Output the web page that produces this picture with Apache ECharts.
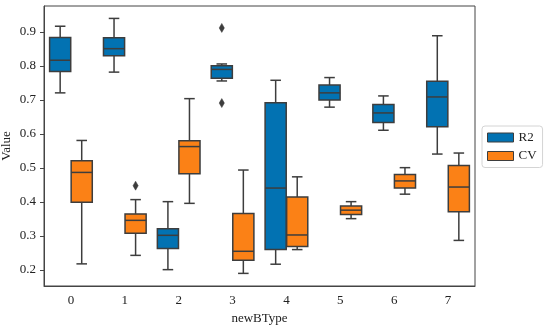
<!DOCTYPE html>
<html>
<head>
<meta charset="utf-8">
<script src="https://cdn.jsdelivr.net/npm/echarts@6/dist/echarts.min.js"></script>
<style>html,body{margin:0;padding:0;background:#fff}#c{width:550px;height:328px}</style>
</head>
<body>
<div id="c"></div>
<script>
// ---- data ----
const categories = ['0', '1', '2', '3', '4', '5', '6', '7'];
// each entry: [lowerWhisker, Q1, median, Q3, upperWhisker]
const r2Box = [
  [0.721, 0.784, 0.817, 0.884, 0.917],
  [0.782, 0.830, 0.851, 0.883, 0.940],
  [0.201, 0.263, 0.302, 0.321, 0.401],
  [0.756, 0.764, 0.790, 0.801, 0.806],
  [0.217, 0.260, 0.441, 0.692, 0.758],
  [0.679, 0.700, 0.721, 0.744, 0.766],
  [0.611, 0.634, 0.662, 0.687, 0.712],
  [0.541, 0.621, 0.709, 0.755, 0.889]
];
const cvBox = [
  [0.218, 0.399, 0.487, 0.521, 0.581],
  [0.243, 0.308, 0.346, 0.365, 0.407],
  [0.396, 0.483, 0.563, 0.580, 0.704],
  [0.190, 0.229, 0.255, 0.366, 0.494],
  [0.260, 0.269, 0.303, 0.415, 0.474],
  [0.351, 0.363, 0.376, 0.388, 0.401],
  [0.423, 0.441, 0.462, 0.481, 0.501],
  [0.287, 0.371, 0.444, 0.507, 0.544]
];
// outliers: [categoryIndex, value]
const r2Outliers = [[3, 0.912], [3, 0.691]];
const cvOutliers = [[1, 0.448]];
const yTicks = [0.2, 0.3, 0.4, 0.5, 0.6, 0.7, 0.8, 0.9];
const seriesNames = ['R2', 'CV'];

// ---- styles ----
const COLORS = ['#0272b2', '#fb8116'];
const EDGE = '#3d3d3d';
const FONT = '"Liberation Serif", "Times New Roman", serif';

function boxRenderer(sign, color) {
  return function (params, api) {
    const x = api.value(0);
    const bw = api.size([1, 0])[0];
    const cx = api.coord([x, 0])[0] + sign * bw * 0.2;
    const w = bw * 0.4 * 0.98;
    const yLow = api.coord([x, api.value(1)])[1];
    const yQ1 = api.coord([x, api.value(2)])[1];
    const yMed = api.coord([x, api.value(3)])[1];
    const yQ3 = api.coord([x, api.value(4)])[1];
    const yHigh = api.coord([x, api.value(5)])[1];
    const ls = { stroke: EDGE, lineWidth: 1.5 };
    return {
      type: 'group',
      children: [
        { type: 'line', shape: { x1: cx, y1: yLow, x2: cx, y2: yQ1 }, style: ls },
        { type: 'line', shape: { x1: cx, y1: yQ3, x2: cx, y2: yHigh }, style: ls },
        { type: 'line', shape: { x1: cx - w / 4, y1: yLow, x2: cx + w / 4, y2: yLow }, style: ls },
        { type: 'line', shape: { x1: cx - w / 4, y1: yHigh, x2: cx + w / 4, y2: yHigh }, style: ls },
        { type: 'rect', shape: { x: cx - w / 2, y: yQ3, width: w, height: yQ1 - yQ3 },
          style: { fill: color, stroke: EDGE, lineWidth: 1.5 } },
        { type: 'line', shape: { x1: cx - w / 2, y1: yMed, x2: cx + w / 2, y2: yMed }, style: ls }
      ]
    };
  };
}
function outlierRenderer(sign) {
  return function (params, api) {
    const x = api.value(0);
    const bw = api.size([1, 0])[0];
    const p = api.coord([x, api.value(1)]);
    const cx = p[0] + sign * bw * 0.2;
    const cy = p[1];
    return {
      type: 'polygon',
      shape: { points: [[cx, cy - 4.5], [cx + 2.6, cy], [cx, cy + 4.5], [cx - 2.6, cy]] },
      style: { fill: EDGE, stroke: EDGE, lineWidth: 0.5 }
    };
  };
}
const toRows = (arr) => arr.map((s, i) => [i].concat(s));

const chart = echarts.init(document.getElementById('c'), null, { renderer: 'canvas' });
chart.setOption({
  animation: false,
  backgroundColor: '#fff',
  textStyle: { fontFamily: FONT },
  grid: { left: 44, right: 75, top: 6, bottom: 42, containLabel: false, outerBoundsMode: 'none',
    show: true, borderColor: '#444', borderWidth: 1, backgroundColor: 'transparent' },
  legend: {
    orient: 'vertical',
    left: 482, top: 126,
    padding: [5, 6, 5, 5],
    itemWidth: 26, itemHeight: 9, itemGap: 5.5, itemTextGap: 10,
    borderColor: '#d4d4d4', borderWidth: 1, borderRadius: 3,
    icon: 'rect',
    textStyle: { fontFamily: FONT, fontSize: 13, color: '#222' },
    data: seriesNames.map((n, i) => ({ name: n, itemStyle: { color: COLORS[i], borderColor: EDGE, borderWidth: 1 } }))
  },
  xAxis: {
    type: 'category',
    data: categories,
    name: 'newBType',
    nameLocation: 'middle',
    nameGap: 26,
    nameMoveOverlap: false,
    nameTextStyle: { fontFamily: FONT, fontSize: 13, color: '#222' },
    axisLine: { lineStyle: { color: '#444', width: 1 } },
    axisTick: { alignWithLabel: true, length: 4, lineStyle: { color: '#444' } },
    axisLabel: { fontFamily: FONT, fontSize: 13, color: '#222', margin: 8 },
    splitLine: { show: false }
  },
  yAxis: {
    type: 'value',
    min: 0.1529, max: 0.9765,
    name: 'Value',
    nameLocation: 'middle',
    nameGap: 31,
    nameMoveOverlap: false,
    nameTextStyle: { fontFamily: FONT, fontSize: 13, color: '#222' },
    axisLine: { show: true, lineStyle: { color: '#444', width: 1 } },
    axisTick: { show: true, length: 4, lineStyle: { color: '#444' }, customValues: yTicks },
    axisLabel: { fontFamily: FONT, fontSize: 13, color: '#222', margin: 8, customValues: yTicks,
      formatter: (v) => v.toFixed(1) },
    splitLine: { show: false }
  },
  series: [
    { name: 'R2', type: 'custom', itemStyle: { color: COLORS[0] }, renderItem: boxRenderer(-1, COLORS[0]),
      encode: { x: 0, y: [1, 2, 3, 4, 5] }, data: toRows(r2Box), clip: false },
    { name: 'CV', type: 'custom', itemStyle: { color: COLORS[1] }, renderItem: boxRenderer(1, COLORS[1]),
      encode: { x: 0, y: [1, 2, 3, 4, 5] }, data: toRows(cvBox), clip: false },
    { name: 'R2 outliers', type: 'custom', renderItem: outlierRenderer(-1),
      encode: { x: 0, y: 1 }, data: r2Outliers },
    { name: 'CV outliers', type: 'custom', renderItem: outlierRenderer(1),
      encode: { x: 0, y: 1 }, data: cvOutliers }
  ]
});
</script>
</body>
</html>
